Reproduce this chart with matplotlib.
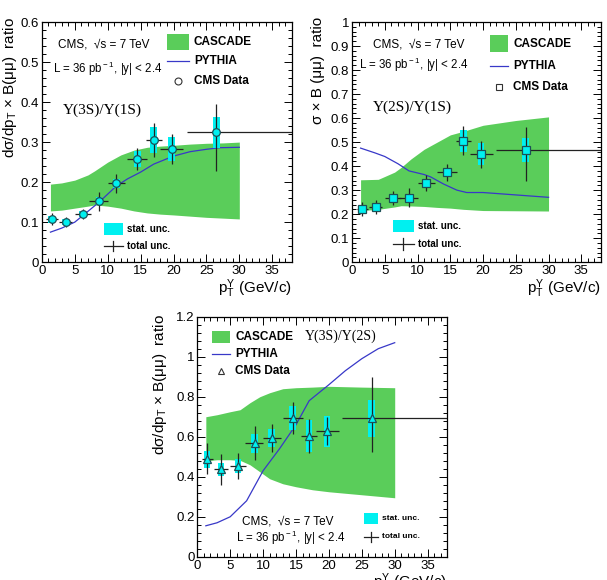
"""Upsilon cross-section ratios vs pT: CMS data compared with CASCADE and PYTHIA.

Output:
  out.png
"""
import matplotlib
matplotlib.use("Agg")
import matplotlib.pyplot as plt
from matplotlib.patches import Rectangle
from matplotlib.ticker import MultipleLocator, FuncFormatter

plt.rcParams["font.family"] = ["Liberation Sans", "DejaVu Sans"]
plt.rcParams["mathtext.fontset"] = "custom"
plt.rcParams["mathtext.rm"] = "Liberation Sans"
plt.rcParams["mathtext.it"] = "Liberation Sans:italic"
plt.rcParams["mathtext.bf"] = "Liberation Sans:bold"

# ---- data -------------------------------------------------------------
pt = [1.5, 3.6, 6.2, 8.7, 11.3, 14.5, 17.0, 19.7, 26.5]
pt_lo = [0.7, 2.6, 5.0, 7.2, 10.0, 13.0, 15.8, 18.0, 22.0]
pt_hi = [2.4, 4.6, 7.4, 10.0, 12.7, 16.0, 18.2, 21.5, 40.0]

# Y(3S)/Y(1S)
r31 = [0.107, 0.100, 0.121, 0.152, 0.197, 0.258, 0.305, 0.283, 0.324]
r31_stat = [0.008, 0.007, 0.008, 0.010, 0.012, 0.019, 0.032, 0.030, 0.038]
r31_tot_dn = [0.015, 0.013, 0.013, 0.023, 0.024, 0.028, 0.043, 0.038, 0.097]
r31_tot_up = [0.015, 0.013, 0.013, 0.023, 0.024, 0.028, 0.043, 0.038, 0.070]
cas31_x = [1.3, 3, 5, 7, 8, 10, 12, 14, 16, 18, 20, 22.5, 25, 27.5, 30]
cas31_up = [0.195, 0.198, 0.205, 0.218, 0.228, 0.250, 0.268, 0.280, 0.287,
            0.290, 0.292, 0.295, 0.297, 0.298, 0.300]
cas31_dn = [0.128, 0.130, 0.135, 0.140, 0.143, 0.140, 0.135, 0.128, 0.123,
            0.120, 0.118, 0.115, 0.112, 0.110, 0.108]
py31_x = [1.3, 3, 5, 7, 8.7, 11.3, 13, 15, 17, 20, 22.5, 25, 27, 30]
py31_y = [0.075, 0.085, 0.100, 0.127, 0.150, 0.190, 0.208, 0.225, 0.245,
          0.265, 0.276, 0.282, 0.286, 0.287]

# Y(2S)/Y(1S)
r21 = [0.222, 0.230, 0.266, 0.269, 0.331, 0.374, 0.505, 0.450, 0.466]
r21_stat = [0.012, 0.012, 0.015, 0.015, 0.015, 0.018, 0.047, 0.045, 0.050]
r21_tot_dn = [0.030, 0.030, 0.030, 0.040, 0.033, 0.034, 0.060, 0.056, 0.128]
r21_tot_up = [0.030, 0.030, 0.030, 0.040, 0.033, 0.034, 0.060, 0.056, 0.095]
cas21_x = [1.3, 4, 6.5, 7.5, 9, 11, 13, 15, 17, 20, 25, 30]
cas21_up = [0.343, 0.345, 0.375, 0.395, 0.430, 0.470, 0.500, 0.530, 0.545,
            0.570, 0.590, 0.605]
cas21_dn = [0.215, 0.220, 0.230, 0.235, 0.234, 0.232, 0.228, 0.225, 0.220,
            0.215, 0.214, 0.213]
py21_x = [1.3, 3.5, 5, 7, 8.7, 11, 12, 14, 16, 17.5, 20, 25, 30]
py21_y = [0.475, 0.455, 0.440, 0.410, 0.380, 0.365, 0.355, 0.325, 0.300,
          0.290, 0.290, 0.280, 0.270]

# Y(3S)/Y(2S)
r32 = [0.488, 0.437, 0.455, 0.567, 0.595, 0.692, 0.603, 0.628, 0.692]
r32_stat = [0.042, 0.032, 0.036, 0.046, 0.046, 0.060, 0.080, 0.078, 0.094]
r32_tot_dn = [0.075, 0.077, 0.064, 0.085, 0.071, 0.080, 0.086, 0.071, 0.167]
r32_tot_up = [0.080, 0.077, 0.064, 0.085, 0.071, 0.080, 0.086, 0.071, 0.205]
cas32_x = [1.3, 3, 5, 6.5, 8, 9.5, 11, 13, 15, 17.5, 20, 25, 30]
cas32_up = [0.700, 0.710, 0.725, 0.735, 0.770, 0.800, 0.820, 0.840, 0.845,
            0.848, 0.852, 0.848, 0.845]
cas32_dn = [0.480, 0.485, 0.485, 0.482, 0.460, 0.425, 0.390, 0.365, 0.350,
            0.335, 0.325, 0.310, 0.295]
py32_x = [1.3, 3, 5, 7.5, 10, 12.5, 15, 17, 20, 22.5, 25, 27.5, 30]
py32_y = [0.155, 0.170, 0.200, 0.280, 0.430, 0.540, 0.660, 0.780, 0.860,
          0.930, 0.990, 1.040, 1.070]

GREEN = "#5acd5a"
CYAN = "#00f0f0"
BLUE = "#3838c8"
SERIF = ["Liberation Serif", "DejaVu Serif"]


def draw_panel(ax, y, stat, tdn, tup, cx, cup, cdn, px, py, marker, ymax,
               ymaj, ymin):
    ax.fill_between(cx, cdn, cup, color=GREEN, lw=0, zorder=1)
    ax.plot(px, py, color=BLUE, lw=0.9, zorder=2)
    bottoms = [v - s for v, s in zip(y, stat)]
    heights = [2 * s for s in stat]
    ax.bar(pt, heights, bottom=bottoms, width=1.0, color=CYAN, lw=0, zorder=3)
    xerr = [[p - lo for p, lo in zip(pt, pt_lo)],
            [hi - p for p, hi in zip(pt, pt_hi)]]
    ax.errorbar(pt, y, yerr=[tdn, tup], xerr=xerr, fmt="none",
                ecolor="#222222", elinewidth=0.9, capsize=0, zorder=4)
    ax.plot(pt, y, ls="none", marker=marker, ms=5.5, mfc=CYAN,
            mec="#1d4f55", mew=0.9, zorder=5)

    ax.set_xlim(0, 38)
    ax.set_ylim(0, ymax)
    ax.xaxis.set_major_locator(MultipleLocator(5))
    ax.xaxis.set_minor_locator(MultipleLocator(1))
    ax.yaxis.set_major_locator(MultipleLocator(ymaj))
    ax.yaxis.set_minor_locator(MultipleLocator(ymin))
    ax.yaxis.set_major_formatter(FuncFormatter(lambda v, _: f"{v:g}"))
    ax.tick_params(which="both", direction="in", top=True, right=True,
                   labelsize=9.5, width=0.7, pad=2)
    ax.tick_params(which="major", length=6)
    ax.tick_params(which="minor", length=3)
    for s in ax.spines.values():
        s.set_linewidth(0.9)
    ax.set_xlabel(r"p$_{\rm T}^{\Upsilon}$ (GeV/c)", loc="right", fontsize=11,
                  labelpad=0)


def legend_block(ax, x0, x1, ys, marker, size=8.5):
    # CASCADE box, PYTHIA line, CMS Data marker
    yc, yp, yd, h = ys
    ax.add_patch(Rectangle((x0, yc - h / 2), x1 - x0, h, color=GREEN, lw=0))
    ax.plot([x0, x1], [yp, yp], color=BLUE, lw=0.9)
    ax.plot([(x0 + x1) / 2], [yd], marker=marker, ms=5, mfc="none",
            mec="#333333", mew=0.8)
    tx = x1 + 0.8
    for yy, t in ((yc, "CASCADE"), (yp, "PYTHIA"), (yd, "CMS Data")):
        ax.text(tx, yy, t, fontsize=size, fontweight="bold", va="center")


def unc_block(ax, x0, x1, ys, yt, h, vh, size=7):
    ax.add_patch(Rectangle((x0, ys - h / 2), x1 - x0, h, color=CYAN, lw=0))
    ax.plot([x0, x1], [yt, yt], color="#222222", lw=0.9)
    xm = (x0 + x1) / 2
    ax.plot([xm, xm], [yt - vh, yt + vh], color="#222222", lw=0.9)
    ax.text(x1 + 0.6, ys, "stat. unc.", fontsize=size, fontweight="bold",
            va="center")
    ax.text(x1 + 0.6, yt, "total unc.", fontsize=size, fontweight="bold",
            va="center")


def main():
    fig = plt.figure(figsize=(6.07, 5.80), dpi=100)
    ax1 = fig.add_axes([0.069, 0.548, 0.412, 0.414])
    ax2 = fig.add_axes([0.580, 0.548, 0.410, 0.414])
    ax3 = fig.add_axes([0.325, 0.040, 0.412, 0.414])

    cms = "CMS,  √s = 7 TeV"
    lumi = r"L = 36 pb$^{\rm -1}$, |y| < 2.4"
    ylab_ds = r"dσ/dp$_{\rm T}$ × B(μμ)  ratio"

    # panel 1: Y(3S)/Y(1S)
    draw_panel(ax1, r31, r31_stat, r31_tot_dn, r31_tot_up, cas31_x, cas31_up,
               cas31_dn, py31_x, py31_y, "o", 0.6, 0.1, 0.02)
    ax1.set_ylabel(ylab_ds, loc="top", fontsize=11)
    ax1.yaxis.set_label_coords(-0.09, 1.02)
    ax1.text(2.4, 0.545, cms, fontsize=8.5, va="center")
    ax1.text(1.7, 0.482, lumi, fontsize=8.3, va="center")
    ax1.text(3.2, 0.38, "Υ(3S)/Υ(1S)", fontsize=11, family=SERIF,
             va="center")
    legend_block(ax1, 19.0, 22.3, (0.55, 0.503, 0.453, 0.04), "o")
    unc_block(ax1, 9.4, 12.3, 0.083, 0.041, 0.030, 0.013)

    # panel 2: Y(2S)/Y(1S)
    draw_panel(ax2, r21, r21_stat, r21_tot_dn, r21_tot_up, cas21_x, cas21_up,
               cas21_dn, py21_x, py21_y, "s", 1.0, 0.1, 0.02)
    ax2.set_ylabel("σ × B (μμ)  ratio", loc="top", fontsize=11)
    ax2.yaxis.set_label_coords(-0.11, 1.02)
    ax2.text(3.2, 0.905, cms, fontsize=8.5, va="center")
    ax2.text(1.0, 0.82, lumi, fontsize=8.3, va="center")
    ax2.text(3.2, 0.646, "Υ(2S)/Υ(1S)", fontsize=11, family=SERIF,
             va="center")
    legend_block(ax2, 21.0, 23.8, (0.91, 0.818, 0.73, 0.07), "s")
    unc_block(ax2, 6.2, 9.4, 0.15, 0.075, 0.05, 0.025)

    # panel 3: Y(3S)/Y(2S)
    draw_panel(ax3, r32, r32_stat, r32_tot_dn, r32_tot_up, cas32_x, cas32_up,
               cas32_dn, py32_x, py32_y, "^", 1.2, 0.2, 0.04)
    ax3.set_ylabel(ylab_ds, loc="top", fontsize=11)
    ax3.yaxis.set_label_coords(-0.115, 1.01)
    ax3.text(6.8, 0.175, cms, fontsize=8.5, va="center")
    ax3.text(5.9, 0.095, lumi, fontsize=8.3, va="center")
    ax3.text(16.3, 1.10, "Υ(3S)/Υ(2S)", fontsize=10, family=SERIF,
             va="center")
    legend_block(ax3, 2.3, 5.0, (1.10, 1.015, 0.93, 0.06), "^")
    unc_block(ax3, 25.3, 27.4, 0.193, 0.10, 0.055, 0.025, size=6)

    fig.savefig("out.png", dpi=100)
    plt.close(fig)


if __name__ == "__main__":
    main()
